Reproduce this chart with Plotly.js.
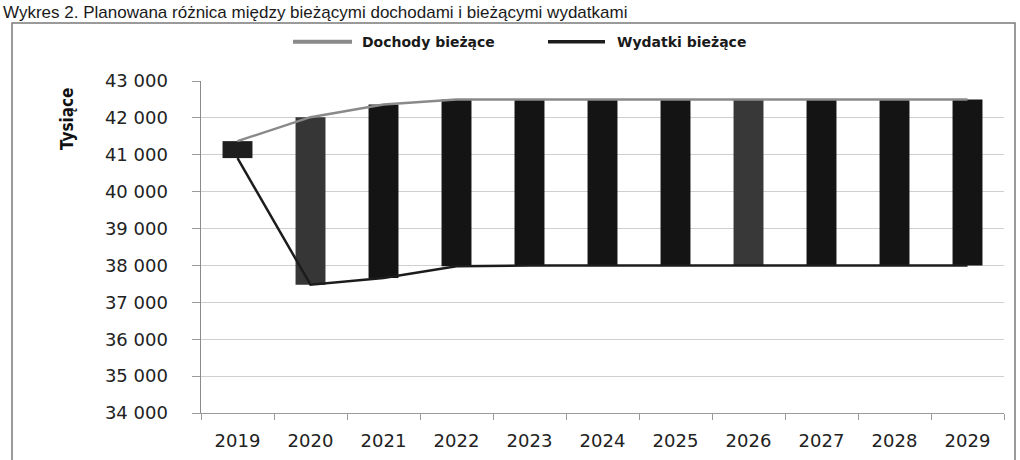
<!DOCTYPE html>
<html>
<head>
<meta charset="utf-8">
<script src="https://cdn.plot.ly/plotly-3.0.1.min.js"></script>
<style>
  html, body { margin: 0; padding: 0; background: #ffffff; }
  #chart { width: 1020px; height: 460px; }
</style>
</head>
<body>
<div id="chart"></div>
<script>
// ---- data ----
const chartTitle = 'Wykres 2. Planowana różnica między bieżącymi dochodami i bieżącymi wydatkami';
const yAxisTitle = 'Tysiące';
const years = ['2019', '2020', '2021', '2022', '2023', '2024', '2025', '2026', '2027', '2028', '2029'];
const dochodyName = 'Dochody bieżące';
const wydatkiName = 'Wydatki bieżące';
const dochody = [41370, 42020, 42360, 42500, 42500, 42500, 42500, 42500, 42500, 42500, 42500];
const wydatki = [40910, 37480, 37660, 37980, 38000, 38000, 38000, 38000, 38000, 38000, 38000];
const yRange = [34000, 43000];

// ---- styles ----
const dochodyColor = '#8a8a8a';
const wydatkiColor = '#1c1c1c';
const barColors = ['#1e1e1e', '#363636', '#141414', '#141414', '#141414', '#141414', '#141414', '#383838', '#141414', '#141414', '#141414'];

// pixel -> paper helpers (plot area: x 201..1004, y 81..413)
const L = 201, R = 16, T = 81, B = 47, W = 1020, H = 460;
const pw = W - L - R, ph = H - T - B;
const px = x => (x - L) / pw;
const py = y => (H - B - y) / ph;

const traces = [
  {
    type: 'bar',
    x: years,
    base: wydatki,
    y: dochody.map((d, i) => d - wydatki[i]),
    width: 0.41,
    marker: { color: barColors, line: { width: 0 } },
    showlegend: false,
    hoverinfo: 'skip'
  },
  {
    type: 'scatter', mode: 'lines', name: dochodyName,
    x: years, y: dochody,
    line: { color: dochodyColor, width: 2.5 },
    showlegend: false
  },
  {
    type: 'scatter', mode: 'lines', name: wydatkiName,
    x: years, y: wydatki,
    line: { color: wydatkiColor, width: 2.5 },
    showlegend: false
  }
];

const legendY = py(41.7);
const layout = {
  width: W, height: H,
  margin: { l: L, r: R, t: T, b: B, pad: 0 },
  paper_bgcolor: '#ffffff',
  plot_bgcolor: '#ffffff',
  separators: ', ',
  showlegend: false,
  title: {
    text: chartTitle,
    font: { family: 'Liberation Sans, Arial, sans-serif', size: 17, color: '#1a1a1a' },
    x: 0.003, xref: 'container', xanchor: 'left',
    y: 1 - 17.5 / H, yref: 'container', yanchor: 'bottom'
  },
  xaxis: {
    type: 'category',
    tickson: 'boundaries',
    ticks: 'outside', ticklen: 6, tickcolor: '#9a9a9a', tickwidth: 1,
    showline: true, linecolor: '#9a9a9a', linewidth: 1,
    showgrid: false,
    tickfont: { family: 'DejaVu Sans, sans-serif', size: 18, color: '#222222' },
    ticklabelstandoff: 11,
    fixedrange: true
  },
  yaxis: {
    range: yRange,
    tick0: 34000, dtick: 1000,
    tickformat: ',d',
    ticks: 'outside', ticklen: 8, tickcolor: '#9a9a9a', tickwidth: 1,
    showline: true, linecolor: '#8a8a8a', linewidth: 1.5,
    showgrid: true, gridcolor: '#cfcfcf', gridwidth: 1,
    zeroline: false,
    tickfont: { family: 'DejaVu Sans, sans-serif', size: 18, color: '#222222' },
    ticklabelstandoff: 20,
    fixedrange: true
  },
  shapes: [
    // outer frame
    { type: 'rect', xref: 'paper', yref: 'paper',
      x0: px(12), x1: px(1015), y0: py(475), y1: py(23),
      line: { color: '#7a7a7a', width: 1.5 }, fillcolor: 'rgba(0,0,0,0)', layer: 'below' },
    // legend samples
    { type: 'line', xref: 'paper', yref: 'paper', x0: px(293), x1: px(352), y0: legendY, y1: legendY,
      line: { color: dochodyColor, width: 4 } },
    { type: 'line', xref: 'paper', yref: 'paper', x0: px(548), x1: px(605), y0: legendY, y1: legendY,
      line: { color: wydatkiColor, width: 3.5 } }
  ],
  annotations: [
    { text: dochodyName, xref: 'paper', yref: 'paper', x: px(361), y: legendY,
      xanchor: 'left', yanchor: 'middle', showarrow: false, borderpad: 0,
      font: { family: 'DejaVu Sans, sans-serif', size: 14, color: '#1a1a1a', weight: 'bold' } },
    { text: wydatkiName, xref: 'paper', yref: 'paper', x: px(616), y: legendY,
      xanchor: 'left', yanchor: 'middle', showarrow: false, borderpad: 0,
      font: { family: 'DejaVu Sans, sans-serif', size: 14, color: '#1a1a1a', weight: 'bold' } },
    { text: yAxisTitle, xref: 'paper', yref: 'paper', x: px(67), y: py(119),
      xanchor: 'center', yanchor: 'middle', textangle: -90, showarrow: false, borderpad: 0,
      font: { family: 'DejaVu Sans Condensed, DejaVu Sans, sans-serif', size: 17, color: '#111111', weight: 'bold' } }
  ]
};

Plotly.newPlot('chart', traces, layout, { staticPlot: true, displayModeBar: false });
</script>
</body>
</html>
